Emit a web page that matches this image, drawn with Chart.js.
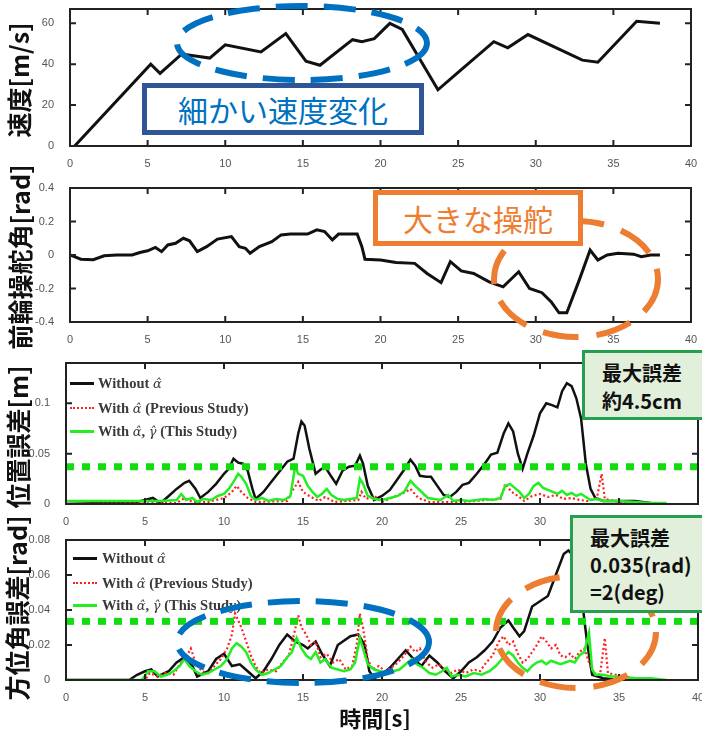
<!DOCTYPE html>
<html><head><meta charset="utf-8">
<script src="https://cdn.jsdelivr.net/npm/chart.js@4.4.1/dist/chart.umd.min.js"></script>
<style>
body{margin:0;width:702px;height:730px;background:#fff;position:relative;overflow:hidden;font-family:"Noto Sans CJK JP";}
canvas{position:absolute;left:0;}
.ylab{position:absolute;width:220px;height:32px;line-height:32px;text-align:center;font-weight:bold;font-size:25px;color:#111;transform:rotate(-90deg);white-space:nowrap;}
.leg{position:absolute;font-family:"Liberation Serif";font-weight:bold;font-size:14.5px;color:#3a3a3a;white-space:nowrap;line-height:16px;}
.sym{font-family:"DejaVu Serif";font-style:italic;font-weight:normal;font-size:13px;}
.ls{position:absolute;width:24px;}
.box{position:absolute;box-sizing:border-box;white-space:nowrap;}
</style></head><body>
<canvas id="c1" width="702" height="168" style="top:0px"></canvas>
<canvas id="c2" width="702" height="170" style="top:175px"></canvas>
<canvas id="c3" width="702" height="185" style="top:345px"></canvas>
<canvas id="c4" width="702" height="175" style="top:530px"></canvas>

<div class="ylab" style="left:-92px;top:64px">速度[m/s]</div>
<div class="ylab" style="left:-91px;top:241px">前輪操舵角[rad]</div>
<div class="ylab" style="left:-93px;top:421px">位置誤差[m]</div>
<div class="ylab" style="left:-94px;top:592px">方位角誤差[rad]</div>
<div style="position:absolute;left:275px;top:703px;width:200px;text-align:center;font-weight:bold;font-size:22px;line-height:28px;color:#111">時間[s]</div>

<!-- legends -->
<div class="ls" style="left:70px;top:382px;height:3px;background:#111"></div>
<div class="ls" style="left:70px;top:407px;border-top:2.5px dotted #ff2020"></div>
<div class="ls" style="left:70px;top:430px;height:3px;background:#22ee22"></div>
<div class="leg" style="left:98px;top:375px">Without <span class="sym">α̂</span></div>
<div class="leg" style="left:98px;top:400px">With <span class="sym">α̂</span> (Previous Study)</div>
<div class="leg" style="left:98px;top:423px">With <span class="sym">α̂</span>, <span class="sym">γ̂</span> (This Study)</div>

<div class="ls" style="left:73px;top:557px;height:3px;background:#111"></div>
<div class="ls" style="left:73px;top:582px;border-top:2.5px dotted #ff2020"></div>
<div class="ls" style="left:73px;top:604px;height:3px;background:#22ee22"></div>
<div class="leg" style="left:102px;top:550px">Without <span class="sym">α̂</span></div>
<div class="leg" style="left:102px;top:575px">With <span class="sym">α̂</span> (Previous Study)</div>
<div class="leg" style="left:102px;top:597px">With <span class="sym">α̂</span>, <span class="sym">γ̂</span> (This Study)</div>

<svg width="702" height="730" style="position:absolute;left:0;top:0">
 <ellipse cx="302" cy="43" rx="125" ry="37" fill="none" stroke="#0070C0" stroke-width="6" stroke-dasharray="32 16"/>
 <ellipse cx="576" cy="279" rx="82" ry="58" fill="none" stroke="#ED7D31" stroke-width="6" stroke-dasharray="36 18"/>
 <ellipse cx="303" cy="642" rx="126" ry="41" fill="none" stroke="#0070C0" stroke-width="6" stroke-dasharray="32 16"/>
 <ellipse cx="576" cy="632" rx="80" ry="56" fill="none" stroke="#ED7D31" stroke-width="6" stroke-dasharray="36 18"/>
</svg>

<div class="box" style="left:142px;top:83px;width:282px;height:52px;border:5px solid #2F5597;background:#fff;color:#0070C0;font-size:30px;line-height:42px;text-align:center">細かい速度変化</div>
<div class="box" style="left:373px;top:190px;width:210px;height:56px;border:5px solid #ED7D31;background:#fff;color:#ED7D31;font-size:30px;line-height:46px;text-align:center">大きな操舵</div>
<div class="box" style="left:582px;top:350px;width:126px;height:70px;border:3px solid #25A04F;background:#E2EFDA;color:#111;font-weight:bold;font-size:20px;line-height:28px;padding:6px 0 0 17px">最大誤差<br>約4.5cm</div>
<div class="box" style="left:570px;top:515px;width:140px;height:98px;border:3px solid #25A04F;background:#E2EFDA;color:#111;font-weight:bold;font-size:20px;line-height:27px;padding:6px 0 0 17px">最大誤差<br>0.035(rad)<br>=2(deg)</div>

<script>
// ---------- data ----------
const xTickVals = [0,5,10,15,20,25,30,35,40];

const speedTicks = [0,20,40,60];
const speedTickLabels = ['0','20','40','60'];
const speedT = [0.3,5.2,5.8,7.2,9,10,12.3,13.9,15.2,16.1,18.2,18.8,19.6,20.6,21.4,23.7,25,27.3,28.2,29.5,33,34,36.5,38];
const speedV = [0,40,35.5,45,43,49.5,46,55,41.5,39.5,52,51,52.5,60,57,27.5,36,51,48,54.5,42,41,61,60];

const steerTicks = [-0.4,-0.2,0,0.2,0.4];
const steerTickLabels = ['-0.4','-0.2','0','0.2','0.4'];
const steerT = [0,0.7,1.5,2.2,3,4,4.5,5,5.5,5.9,6.3,6.8,7.3,7.7,8.2,8.8,9.5,10.4,10.9,11.3,11.6,12.2,13,13.6,14.2,15.3,15.9,16.4,16.9,17.3,18.5,18.8,19,20,21,22.2,23,23.9,24.5,25.2,26,27,27.9,28.9,29.6,30.4,31,31.5,32,32.8,33.5,34,34.6,35.3,36.3,36.8,37.4,38];
const steerV = [0,-0.025,-0.028,-0.005,0,0,0.015,0.025,0.045,0.02,0.06,0.07,0.1,0.085,0.02,0.05,0.095,0.11,0.05,0.04,0.01,0.05,0.08,0.12,0.125,0.125,0.15,0.14,0.09,0.125,0.125,0.05,-0.025,-0.03,-0.045,-0.05,-0.11,-0.165,-0.04,-0.095,-0.11,-0.16,-0.19,-0.1,-0.2,-0.225,-0.28,-0.345,-0.345,-0.15,0.03,-0.03,0,0.01,0.005,-0.01,0,0];

const posTicks = [0,0.05,0.1];
const posTickLabels = ['0','0.05','0.1'];
const posLimit = 0.037;
const posBlackT = [0,4.5,5,5.5,5.8,6,6.5,7,7.5,7.8,8.2,8.5,9,9.5,10,10.3,10.6,10.9,11.2,11.5,11.8,12,12.5,13,13.5,14,14.4,14.7,14.9,15.1,15.4,15.8,16.1,16.4,16.8,17.1,17.5,17.9,18.3,18.6,18.8,19.1,19.5,20,20.5,21,21.4,21.8,22.1,22.4,22.8,23.1,23.5,23.9,24.3,24.7,25.1,25.5,26,26.5,26.9,27.3,27.7,28,28.3,28.6,28.9,29.2,29.6,30,30.4,30.8,31.1,31.4,31.7,32,32.3,32.6,32.9,33.2,33.5,34,35,36,37,38];
const posBlackV = [0,0.002,0.004,0.006,0.003,0.001,0.008,0.015,0.021,0.023,0.015,0.006,0.012,0.02,0.03,0.035,0.045,0.041,0.04,0.033,0.015,0.005,0.012,0.022,0.032,0.042,0.045,0.07,0.082,0.078,0.055,0.03,0.034,0.037,0.027,0.02,0.033,0.037,0.038,0.048,0.04,0.018,0.004,0.008,0.014,0.025,0.034,0.044,0.038,0.028,0.027,0.027,0.018,0.009,0.007,0.012,0.019,0.021,0.03,0.04,0.049,0.051,0.07,0.08,0.072,0.05,0.035,0.05,0.068,0.09,0.1,0.098,0.096,0.112,0.12,0.117,0.105,0.085,0.04,0.015,0.006,0.003,0.003,0.003,0.001,0];
const posRedT = [0,7,7.5,8,9,10,10.5,10.8,11.1,11.5,12,14,14.4,14.7,15,15.4,16,16.4,17,18.5,18.7,19,19.5,20,21.5,21.8,22.3,23,25,27.5,27.8,28.2,28.6,29,29.5,30,30.5,31,31.5,32,32.5,33,33.6,33.9,34.1,35,36];
const posRedV = [0,0.001,0.006,0.002,0.002,0.006,0.012,0.018,0.012,0.006,0.002,0.003,0.015,0.022,0.012,0.008,0.003,0.007,0.002,0.004,0.012,0.005,0.008,0.002,0.012,0.015,0.006,0.002,0.002,0.005,0.02,0.012,0.008,0.003,0.008,0.01,0.007,0.009,0.005,0.006,0.004,0.003,0.006,0.03,0.005,0.002,0.001];
const posGreenT = [0,2,4,6,7,7.3,7.6,8,8.3,8.7,9.2,9.6,10,10.3,10.6,10.9,11.1,11.4,11.7,12,12.4,12.8,13.3,13.8,14.2,14.5,14.7,15,15.3,15.6,15.9,16.2,16.5,16.8,17.2,17.6,18,18.4,18.6,18.8,19.1,19.5,20,20.5,21,21.4,21.8,22.1,22.5,22.9,23.3,23.7,24.2,24.5,25,25.5,26,26.5,27,27.5,27.8,28.1,28.4,28.7,29,29.3,29.6,29.9,30.2,30.5,30.8,31.1,31.4,31.7,32,32.3,32.6,32.9,33.2,33.6,34,35,36,37,38];
const posGreenV = [0.003,0.003,0.003,0.003,0.004,0.01,0.004,0.006,0.002,0.005,0.004,0.008,0.01,0.015,0.022,0.03,0.027,0.02,0.008,0.004,0.006,0.003,0.005,0.004,0.008,0.037,0.03,0.028,0.018,0.012,0.007,0.01,0.015,0.009,0.005,0.004,0.005,0.006,0.025,0.02,0.008,0.005,0.004,0.006,0.008,0.012,0.023,0.018,0.012,0.006,0.005,0.004,0.009,0.003,0.004,0.003,0.004,0.005,0.004,0.006,0.018,0.02,0.016,0.012,0.006,0.01,0.018,0.021,0.016,0.014,0.012,0.01,0.013,0.009,0.011,0.008,0.01,0.007,0.004,0.005,0.003,0.003,0.002,0.001,0.001];

const hdTicks = [0,0.02,0.04,0.06,0.08];
const hdTickLabels = ['0','0.02','0.04','0.06','0.08'];
const hdLimit = 0.0335;
const hdBlackT = [0,4,4.5,5,5.4,5.8,6.5,7,7.5,8,8.3,9,9.5,10,10.5,11,11.5,12,12.5,13,13.5,14,14.5,15,15.3,15.8,16.2,16.7,17.2,18,18.5,18.9,19.2,19.5,20,20.5,21,21.5,22,22.5,23,23.5,24,24.5,25,25.5,26,26.5,27,27.5,28,28.3,28.7,29,29.5,30,30.5,31,31.5,31.8,32.2,32.6,33,33.3,34,35];
const hdBlackV = [0,0,0.003,0.005,0.006,0.002,0.005,0.01,0.013,0.008,0.002,0.005,0.012,0.015,0.008,0.009,0.005,0.001,0.005,0.012,0.02,0.026,0.022,0.02,0.018,0.022,0.015,0.008,0.02,0.025,0.026,0.02,0.005,0.001,0.003,0.007,0.012,0.017,0.012,0.008,0.014,0.01,0.005,0.001,0.005,0.01,0.013,0.017,0.022,0.03,0.034,0.03,0.025,0.028,0.042,0.045,0.048,0.06,0.072,0.074,0.07,0.05,0.02,0.003,0.001,0];
const hdRedT = [0,5,5.3,5.8,6.3,6.8,7.2,7.6,7.9,8.2,8.6,9,9.4,9.8,10.2,10.5,10.7,10.9,11.1,11.4,11.7,12,12.3,12.8,13.3,13.7,14.1,14.4,14.7,14.9,15.2,15.5,15.8,16.1,16.5,16.9,17.3,17.7,18.1,18.4,18.6,18.8,19.1,19.4,19.8,20.2,20.6,21,21.4,21.8,22.1,22.4,22.8,23.2,23.6,24,24.4,24.8,25.3,25.8,26.2,26.6,27,27.4,27.7,28,28.3,28.6,28.9,29.2,29.5,29.8,30.1,30.4,30.7,31,31.3,31.6,31.9,32.2,32.5,32.8,33.1,33.4,33.8,34.1,34.3,34.8,35.3,36,37];
const hdRedV = [0,0,0.004,0.002,0.004,0.003,0.009,0.013,0.018,0.01,0.005,0.004,0.008,0.012,0.018,0.026,0.038,0.034,0.03,0.022,0.014,0.008,0.004,0.006,0.005,0.01,0.014,0.025,0.037,0.03,0.026,0.02,0.022,0.013,0.015,0.01,0.012,0.006,0.008,0.02,0.038,0.03,0.012,0.006,0.008,0.005,0.007,0.01,0.014,0.019,0.016,0.018,0.01,0.007,0.009,0.006,0.004,0.006,0.004,0.006,0.005,0.01,0.014,0.022,0.025,0.02,0.022,0.015,0.01,0.012,0.016,0.02,0.025,0.022,0.018,0.02,0.014,0.013,0.015,0.012,0.016,0.018,0.01,0.004,0.003,0.024,0.004,0.003,0.002,0.001,0];
const hdGreenT = [0,4.8,5.2,5.6,6,6.4,6.8,7.2,7.5,7.8,8.2,8.6,9,9.4,9.8,10.2,10.5,10.8,11.1,11.4,11.7,12,12.4,12.8,13.2,13.6,14,14.3,14.6,14.9,15.2,15.5,15.8,16.1,16.4,16.8,17.2,17.6,18,18.3,18.6,18.8,19.1,19.5,19.9,20.3,20.7,21.1,21.5,21.9,22.2,22.6,23,23.4,23.8,24.1,24.4,24.8,25.3,25.8,26.3,26.8,27.2,27.6,28,28.3,28.6,28.9,29.2,29.5,29.8,30.1,30.4,30.7,31,31.3,31.6,31.9,32.2,32.5,32.8,33.1,33.3,33.5,34,34.5,35,36,37,38];
const hdGreenV = [0,0,0.005,0.005,0.002,0.003,0.005,0.008,0.012,0.008,0.005,0.003,0.004,0.006,0.008,0.012,0.018,0.021,0.019,0.016,0.01,0.006,0.003,0.004,0.006,0.008,0.013,0.016,0.024,0.018,0.014,0.012,0.016,0.01,0.012,0.007,0.006,0.005,0.006,0.01,0.024,0.018,0.009,0.006,0.005,0.004,0.005,0.006,0.009,0.012,0.009,0.007,0.004,0.003,0.005,0.007,0.002,0.003,0.002,0.004,0.003,0.005,0.008,0.012,0.016,0.014,0.01,0.007,0.005,0.008,0.01,0.011,0.009,0.011,0.01,0.009,0.01,0.011,0.01,0.014,0.016,0.027,0.006,0.003,0.003,0.002,0.002,0.001,0.001,0];

// ---------- helpers ----------
const pts = (t, v) => t.map((x, i) => ({x, y: v[i]}));
const flat = (val) => [{x:0, y:val}, {x:40, y:val}];

const framePlugin = {
  id: 'frame',
  afterDatasetsDraw(chart) {
    const {ctx, chartArea: a, scales: {x, y}} = chart;
    ctx.save();
    ctx.strokeStyle = '#222';
    ctx.lineWidth = 2;
    ctx.beginPath();
    x.ticks.forEach(t => {
      const p = x.getPixelForValue(t.value);
      ctx.moveTo(p, a.bottom); ctx.lineTo(p, a.bottom - 6);
      ctx.moveTo(p, a.top); ctx.lineTo(p, a.top + 6);
    });
    y.ticks.forEach(t => {
      const p = y.getPixelForValue(t.value);
      ctx.moveTo(a.left, p); ctx.lineTo(a.left + 6, p);
      ctx.moveTo(a.right, p); ctx.lineTo(a.right - 6, p);
    });
    ctx.stroke();
    ctx.strokeRect(a.left, a.top, a.right - a.left, a.bottom - a.top);
    ctx.restore();
  }
};

const tickFont = {family: 'Liberation Sans', size: 11};
function build(id, c) {
  return new Chart(document.getElementById(id), {
    type: 'line',
    data: {datasets: c.datasets},
    options: {
      responsive: false, animation: false, devicePixelRatio: 1,
      layout: {padding: c.pad},
      plugins: {legend: {display: false}, tooltip: {enabled: false}},
      elements: {point: {radius: 0}, line: {tension: 0}},
      scales: {
        x: {type: 'linear', min: 0, max: 40,
            grid: {display: false}, border: {display: false},
            afterBuildTicks: ax => { ax.ticks = xTickVals.map(v => ({value: v})); },
            afterFit: s => { s.height = c.xh; s.paddingLeft = 0; s.paddingRight = 0; },
            ticks: {padding: 3, maxRotation: 0, autoSkip: false, color: '#555', font: tickFont,
                    callback: (v, i) => String(xTickVals[i])}},
        y: {type: 'linear', min: c.ymin, max: c.ymax,
            grid: {display: false}, border: {display: false},
            afterBuildTicks: ax => { ax.ticks = c.yTicks.map(v => ({value: v})); },
            afterFit: s => { s.width = c.yw; s.paddingTop = 0; s.paddingBottom = 0; },
            ticks: {padding: 8, autoSkip: false, color: '#555', font: tickFont,
                    callback: (v, i) => c.yLabels[i]}}
      }
    },
    plugins: [framePlugin]
  });
}

const blackStyle = {borderColor: '#111', borderWidth: 2.5, fill: false, order: 2};
const redStyle = {borderColor: '#ff2020', borderWidth: 2.2, borderDash: [2, 2.5], fill: false, order: 1};
const greenStyle = {borderColor: '#22ee22', borderWidth: 2.5, fill: false, order: 0};
const limitStyle = {borderColor: '#11dd11', borderWidth: 7, borderDash: [8, 8], fill: false, order: -1};

build('c1', {pad: {top: 9, left: 0, right: 11, bottom: 0}, yw: 70, xh: 22, ymin: 0, ymax: 67,
  yTicks: speedTicks, yLabels: speedTickLabels,
  datasets: [{data: pts(speedT, speedV), borderColor: '#111', borderWidth: 3}]});

build('c2', {pad: {top: 13, left: 0, right: 11, bottom: 0}, yw: 70, xh: 23, ymin: -0.4, ymax: 0.4,
  yTicks: steerTicks, yLabels: steerTickLabels,
  datasets: [{data: pts(steerT, steerV), borderColor: '#111', borderWidth: 3}]});

build('c3', {pad: {top: 18, left: 0, right: 4, bottom: 0}, yw: 66, xh: 26, ymin: 0, ymax: 0.14,
  yTicks: posTicks, yLabels: posTickLabels,
  datasets: [
    {data: pts(posBlackT, posBlackV), ...blackStyle},
    {data: pts(posRedT, posRedV), ...redStyle},
    {data: pts(posGreenT, posGreenV), ...greenStyle},
    {data: flat(posLimit), ...limitStyle}
  ]});

build('c4', {pad: {top: 10, left: 0, right: 4, bottom: 0}, yw: 66, xh: 25, ymin: 0, ymax: 0.08,
  yTicks: hdTicks, yLabels: hdTickLabels,
  datasets: [
    {data: pts(hdBlackT, hdBlackV), ...blackStyle},
    {data: pts(hdRedT, hdRedV), ...redStyle},
    {data: pts(hdGreenT, hdGreenV), ...greenStyle},
    {data: flat(hdLimit), ...limitStyle}
  ]});
</script>
</body></html>
